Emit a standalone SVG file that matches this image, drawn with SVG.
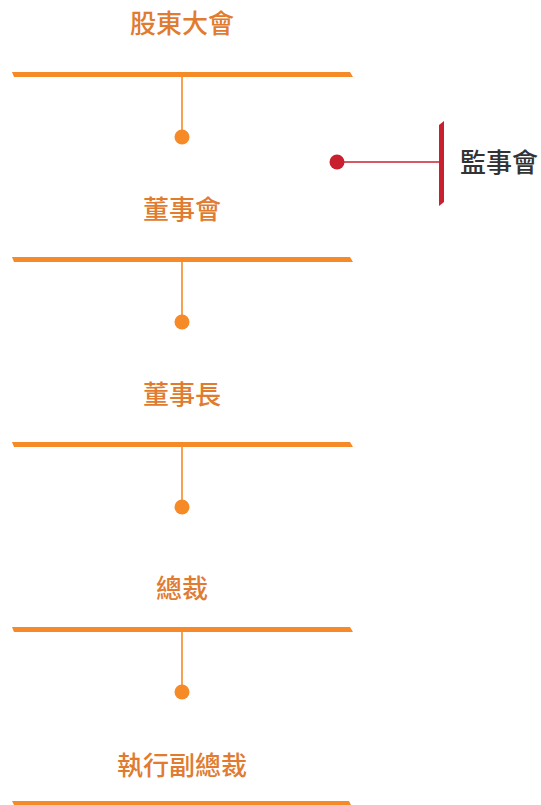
<svg xmlns="http://www.w3.org/2000/svg" width="541" height="805" viewBox="0 0 541 805">
<style>
.bar{fill:#F58A27}
.stem{stroke:#F58A27;stroke-width:1.6;fill:none}
.dot{fill:#F58A27}
.lbl{font-family:"Noto Sans CJK TC","Noto Sans CJK SC",sans-serif;font-size:26px;font-weight:500;fill:#E07B2F;text-anchor:middle;dominant-baseline:central}
.red{fill:#C8202F}
.redl{stroke:#C8202F;stroke-width:1.4;fill:none}
.dark{font-family:"Noto Sans CJK TC","Noto Sans CJK SC",sans-serif;font-size:26px;font-weight:500;fill:#333333;dominant-baseline:central}
</style>
<rect width="541" height="805" fill="#ffffff"/>
<g id="connectors">
<line class="stem" x1="182" y1="76" x2="182" y2="137"/>
<line class="stem" x1="182" y1="261" x2="182" y2="322"/>
<line class="stem" x1="182" y1="446" x2="182" y2="507"/>
<line class="stem" x1="182" y1="632" x2="182" y2="692"/>
<circle class="dot" cx="182" cy="137" r="7.5"/>
<circle class="dot" cx="182" cy="322" r="7.5"/>
<circle class="dot" cx="182" cy="507" r="7.5"/>
<circle class="dot" cx="182" cy="692" r="7.5"/>
<line class="redl" x1="337" y1="162" x2="441" y2="162"/>
<circle class="red" cx="337" cy="162" r="7.5"/>
</g>
<g id="node-shareholders">
<text class="lbl" x="182" y="21">股東大會</text>
<polygon class="bar" points="12,72 350,72 353,77 14,77"/>
</g>
<g id="node-board">
<text class="lbl" x="182" y="207">董事會</text>
<polygon class="bar" points="12,257 350,257 353,262 14,262"/>
</g>
<g id="node-chairman">
<text class="lbl" x="182" y="392">董事長</text>
<polygon class="bar" points="12,442 350,442 353,447 14,447"/>
</g>
<g id="node-president">
<text class="lbl" x="182" y="586">總裁</text>
<polygon class="bar" points="12,627 350,627 353,632 14,632"/>
</g>
<g id="node-evp">
<text class="lbl" x="182" y="763">執行副總裁</text>
<polygon class="bar" points="12,801 349,801 351,805 14,805"/>
</g>
<g id="node-supervisors">
<polygon class="red" points="439,125 444,121 444,202 439,206"/>
<text class="dark" x="460" y="160">監事會</text>
</g>
</svg>
